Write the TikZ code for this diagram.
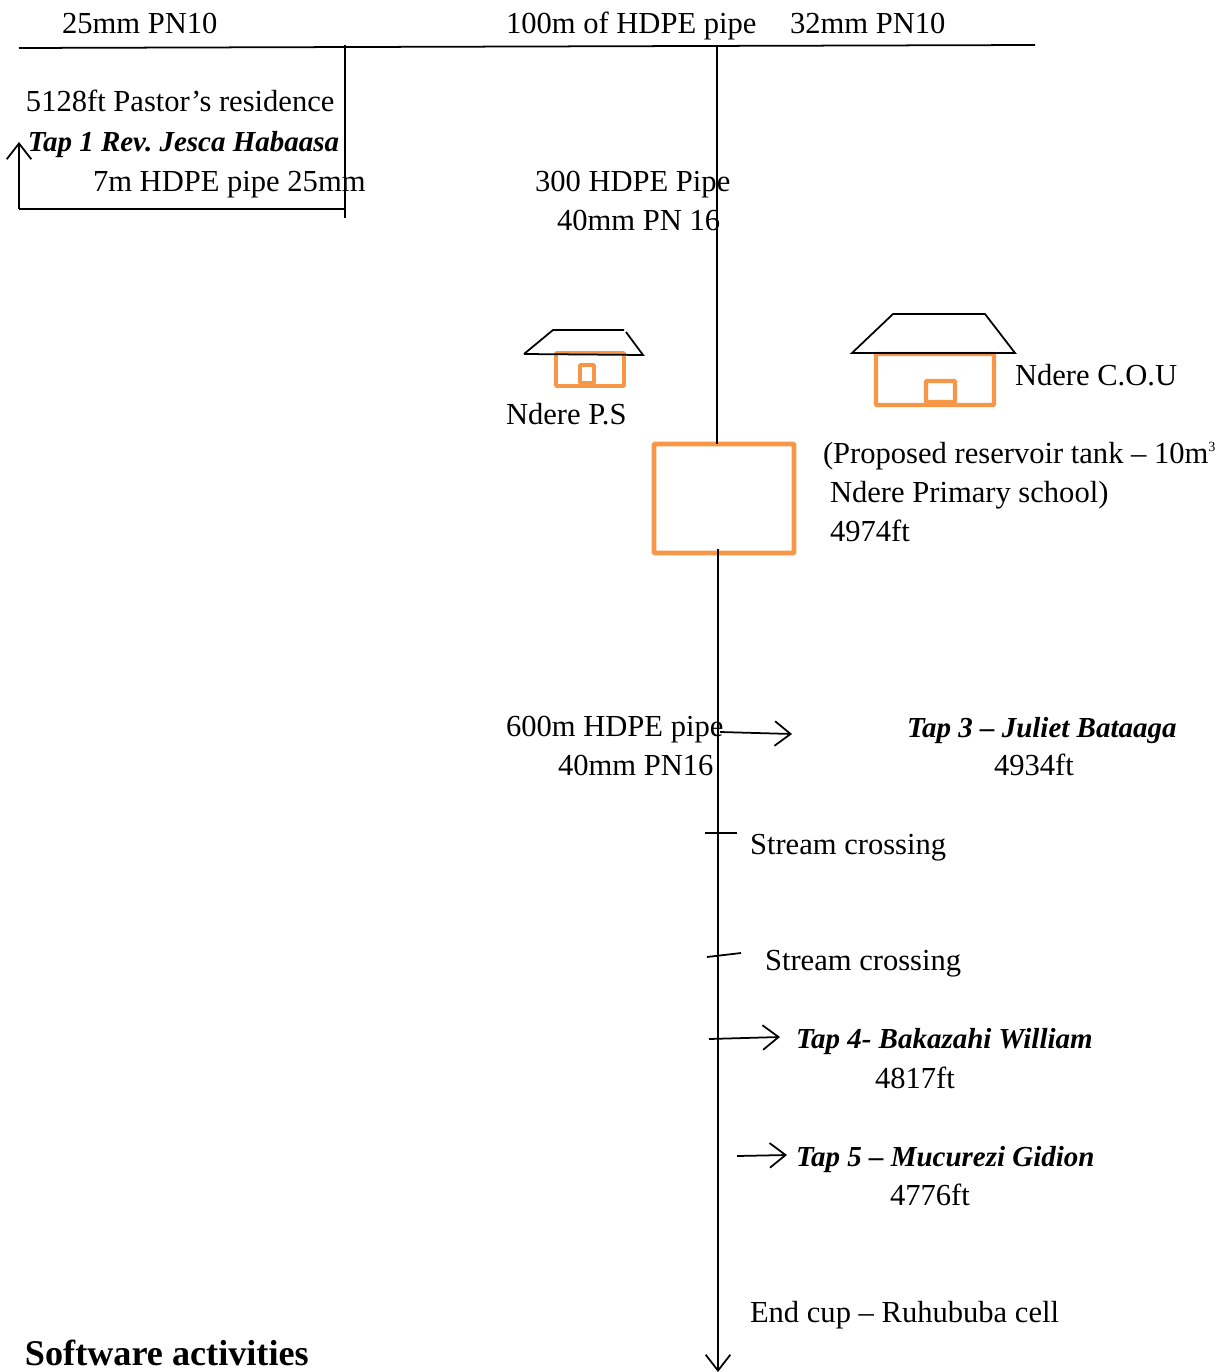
\documentclass[tikz,border=0pt]{standalone}
\usepackage{fontspec}
\setmainfont{Liberation Serif}
\usetikzlibrary{arrows.meta,positioning,calc}
\definecolor{tankorange}{HTML}{F79646}
\frenchspacing
\tikzset{
  lbl/.style={anchor=base west,inner sep=0pt,outer sep=0pt,font=\fontsize{17.4}{20}\selectfont},
  tap/.style={lbl,font=\fontsize{16.5}{20}\selectfont\bfseries\itshape},
  pipe/.style={line width=1.5pt,black},
  branch/.style={line width=1pt,black,-{Straight Barb[length=9pt,width=14pt,line width=1pt]}},
  orangebox/.style={draw=tankorange,rounded corners=0.5pt,inner sep=0pt,outer sep=0pt},
}

\begin{document}
\begin{tikzpicture}[x=0.02cm,y=-0.02cm]
\useasboundingbox (0,0) rectangle (1225,1372);
% pipe line, top
\coordinate (topleft) at (19,48);
\coordinate (topright) at (1035,45);
\coordinate (taptop) at (345,45);
\coordinate (tapbot) at (345,218);
\coordinate (tapcorner) at (19,209);
\coordinate (tapjoin) at (345,209);
\coordinate (tapend) at (19,142);
\coordinate (maintop) at (717,46);
\draw[line width=1pt] (topleft) -- (topright);
\draw[line width=1pt] (taptop) -- (tapbot);
\draw[line width=1pt] (tapjoin) -- (tapcorner);
\draw[branch] (tapcorner) -- (tapend);
% tank and main line
\node[orangebox,line width=2.6pt,minimum width=2.8cm,minimum height=2.18cm] (tank) at (724,498.5) {};
\coordinate (tankout) at (718,549);
\coordinate (mainend) at (718,1372);
\draw[pipe] (maintop) -- (maintop |- tank.north);
\draw[pipe,-{Straight Barb[length=9pt,width=14pt,line width=1pt]}] (tankout) -- (mainend);
% houses
\node[orangebox,line width=2.2pt,minimum width=1.36cm,minimum height=0.66cm] (school) at (590,369.5) {};
\node[orangebox,line width=2.2pt,minimum width=0.28cm,minimum height=0.36cm] (schooldoor) at (587,374) {};
\node[orangebox,line width=2.4pt,minimum width=2.36cm,minimum height=1.02cm] (church) at (935,379.5) {};
\node[orangebox,line width=2.4pt,minimum width=0.58cm,minimum height=0.42cm] (churchdoor) at (940.5,391.5) {};
\draw[line width=1pt] (524,354) -- (553,330) -- (624,330);
\draw[line width=1pt] (626,332) -- (643,355) -- (524,354);
\draw[line width=1pt] (852,353) -- (893,314) -- (985,314) -- (1015,353) -- cycle;
% crossings and taps
\coordinate (cross1a) at (705,833);
\coordinate (cross1b) at (737,833);
\coordinate (cross2a) at (707,957);
\coordinate (cross2b) at (741,953);
\draw[line width=1pt] (cross1a) -- (cross1b);
\draw[line width=1pt] (cross2a) -- (cross2b);
\coordinate (tapthree) at (720,732);
\coordinate (tapfour) at (709,1039);
\coordinate (tapfive) at (737,1156);
\draw[branch] (tapthree) -- (792,734);
\draw[branch] (tapfour) -- (780,1037);
\draw[branch] (tapfive) -- (787,1155);
% labels
\node[lbl] (l25) at (62,34) {25mm PN10};
\node[lbl] (l100) at (506,34) {100m of HDPE pipe};
\node[lbl] (l32) at (790,34) {32mm PN10};
\node[lbl] (pastor) at (26,112) {5128ft Pastor’s residence};
\node[tap] (tapone) at (28,152) {Tap 1 Rev. Jesca Habaasa};
\node[lbl] (l7) at (93,191) {7m HDPE pipe 25mm};
\node[lbl] (l300) at (535,191) {300 HDPE Pipe};
\node[lbl] (l40a) at (557,230) {40mm PN 16};
\node[lbl] (schoollbl) at (506,424) {Ndere P.S};
\node[lbl] (churchlbl) at (1015,385) {Ndere C.O.U};
\node[lbl] (tanka) at (823,463) {(Proposed reservoir tank – 10m\raisebox{6.5pt}{\fontsize{8}{8}\selectfont 3}};
\node[lbl] (tankb) at (830,502) {Ndere Primary school)};
\node[lbl] (tankc) at (830,541) {4974ft};
\node[lbl] (l600) at (506,736) {600m HDPE pipe};
\node[lbl] (l40b) at (558,775) {40mm PN16};
\node[tap] (juliet) at (907,737) {Tap 3 – Juliet Bataaga};
\node[lbl] (julietft) at (994,775) {4934ft};
\node[lbl] (stream1) at (750,854) {Stream crossing};
\node[lbl] (stream2) at (765,970) {Stream crossing};
\node[tap] (william) at (796,1048) {Tap 4- Bakazahi William};
\node[lbl] (williamft) at (875,1088) {4817ft};
\node[tap] (gidion) at (796,1166) {Tap 5 – Mucurezi Gidion};
\node[lbl] (gidionft) at (890,1205) {4776ft};
\node[lbl] (endcup) at (750,1322) {End cup – Ruhububa cell};
\node[lbl,font=\fontsize{20.6}{24}\selectfont\bfseries] (software) at (25,1365) {Software activities};
\end{tikzpicture}
\end{document}
